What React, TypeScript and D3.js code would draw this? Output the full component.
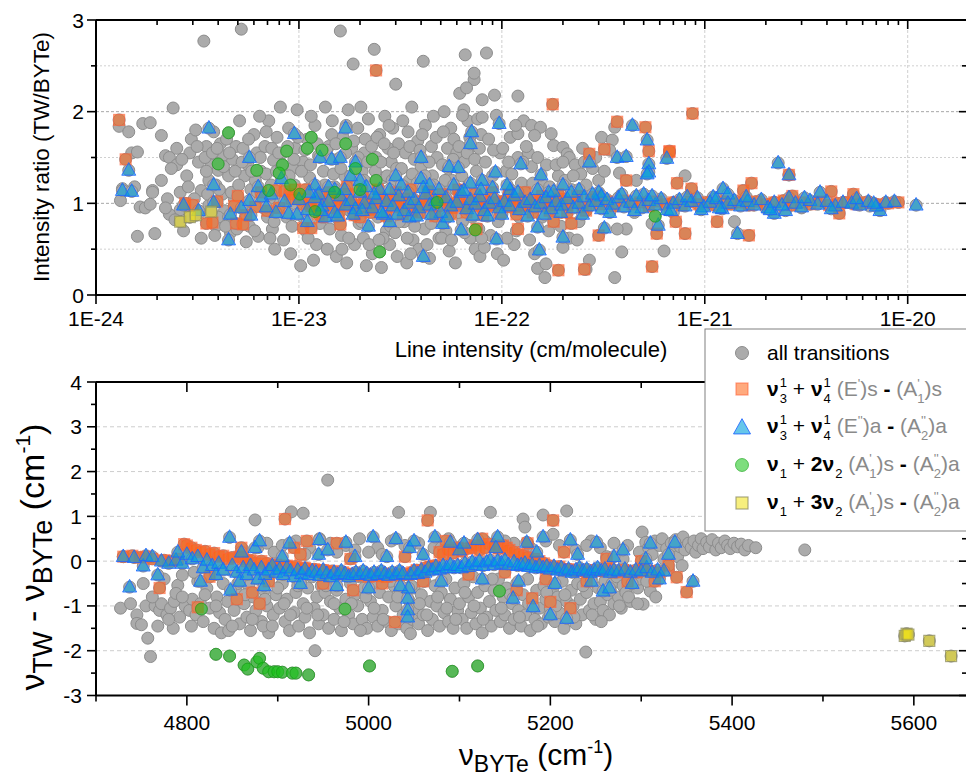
import React from "react";
import * as d3 from "d3";

type P = [number, number];

// ---------------- TOP PANEL: [line intensity (cm/molecule), intensity ratio TW/BYTe]
const topAllOnly: P[] = [
  [1.3e-24,1.84],[1.35e-24,1.16],[1.32e-24,1.03],[1.45e-24,1.78],[1.5e-24,1.55],[1.6e-24,1.56],[1.55e-24,1.18],[1.6e-24,0.64],[1.65e-24,0.96],[1.7e-24,1.87],[1.75e-24,0.95],[1.85e-24,1.88],[1.9e-24,1.14],[1.85e-24,0.99],[1.95e-24,0.67],[1.9e-24,1.12],
  [2.1e-24,1.74],[2.2e-24,1.52],[2.3e-24,1.5],[2.25e-24,1.05],[2.4e-24,2.04],[2.5e-24,1.6],[2.5e-24,1.42],[2.6e-24,1.12],[2.6e-24,0.93],[2.7e-24,0.7],[2.3e-24,0.88],[2.8e-24,1.3],[2.9e-24,1.55],[2.75e-24,1.0],[2.95e-24,1.7],[2.2e-24,0.95],
  [3.1e-24,1.8],[3.2e-24,1.45],[3.3e-24,1.14],[3.4e-24,2.77],[3.3e-24,0.62],[3.5e-24,1.62],[3.6e-24,1.25],[3.6e-24,0.98],[3.7e-24,1.42],[3.8e-24,1.78],[3.9e-24,0.75],[4.0e-24,1.36],[4.1e-24,1.65],[4.2e-24,1.1],[4.3e-24,0.92],[4.4e-24,1.7],[4.5e-24,1.3],[4.6e-24,0.68],[4.7e-24,1.48],[4.8e-24,1.05],[4.9e-24,1.62],[3.5e-24,1.35],[4.0e-24,0.85],[4.5e-24,0.85],[3.9e-24,1.2],[4.2e-24,1.52],
  [5.1e-24,1.9],[5.2e-24,2.9],[5.3e-24,1.6],[5.4e-24,1.3],[5.5e-24,0.58],[5.6e-24,1.42],[5.8e-24,1.15],[5.9e-24,0.95],[6.0e-24,1.75],[6.2e-24,1.55],[6.3e-24,0.64],[6.5e-24,1.35],[6.6e-24,1.08],[6.8e-24,1.62],[7.0e-24,0.85],[7.1e-24,1.9],[7.3e-24,1.2],[7.5e-24,1.47],[7.6e-24,0.5],[7.8e-24,1.72],[7.9e-24,1.02],[5.7e-24,0.75],[6.1e-24,1.25],[6.9e-24,1.32],[7.4e-24,0.72],[5.4e-24,1.0],[6.4e-24,1.95],[7.2e-24,0.62],
  [8.1e-24,2.05],[8.3e-24,1.55],[8.5e-24,1.25],[8.7e-24,0.85],[8.9e-24,1.82],[9.1e-24,0.45],[9.3e-24,1.38],[9.6e-24,1.6],[9.8e-24,2.02],[1.0e-23,1.12],[1.02e-23,0.32],[1.05e-23,1.45],[1.08e-23,0.7],[1.1e-23,1.7],[1.13e-23,1.28],[1.16e-23,0.95],[1.2e-23,1.85],[1.22e-23,0.55],[1.25e-23,1.52],[1.28e-23,1.15],[8.4e-24,0.6],[9.0e-24,1.0],[1.15e-23,1.95],[1.05e-23,0.85],[9.5e-24,1.2],[8.8e-24,1.62],[1.18e-23,0.38],[1.27e-23,0.78],
  [1.32e-23,1.35],[1.35e-23,2.05],[1.38e-23,0.5],[1.4e-23,1.62],[1.43e-23,0.88],[1.46e-23,1.9],[1.5e-23,1.18],[1.53e-23,0.42],[1.56e-23,1.48],[1.6e-23,2.88],[1.62e-23,0.65],[1.65e-23,1.72],[1.68e-23,1.3],[1.72e-23,0.35],[1.75e-23,2.02],[1.78e-23,0.92],[1.82e-23,1.6],[1.85e-23,2.52],[1.88e-23,0.55],[1.92e-23,1.42],[1.95e-23,1.82],[1.98e-23,0.78],[1.4e-23,1.1],[1.58e-23,0.95],[1.7e-23,1.55],[1.9e-23,1.15],[1.45e-23,1.75],[1.63e-23,0.5],
  [2.02e-23,2.05],[2.05e-23,1.35],[2.08e-23,0.62],[2.12e-23,1.7],[2.15e-23,0.32],[2.2e-23,1.92],[2.25e-23,1.12],[2.3e-23,0.45],[2.35e-23,2.68],[2.4e-23,1.5],[2.45e-23,0.85],[2.5e-23,1.75],[2.55e-23,0.3],[2.6e-23,1.28],[2.65e-23,1.95],[2.7e-23,0.7],[2.75e-23,1.6],[2.8e-23,0.55],[2.85e-23,1.45],[2.9e-23,1.82],[2.95e-23,0.9],[3.0e-23,2.3],[3.05e-23,0.42],[3.1e-23,1.65],[2.3e-23,1.2],[2.6e-23,0.62],[2.85e-23,1.15],[2.1e-23,1.55],
  [3.25e-23,1.9],[3.3e-23,0.8],[3.35e-23,1.55],[3.4e-23,0.35],[3.45e-23,1.78],[3.5e-23,1.25],[3.6e-23,2.05],[3.65e-23,0.6],[3.7e-23,1.48],[3.8e-23,0.92],[3.85e-23,1.68],[3.9e-23,0.5],[4.0e-23,1.4],[4.1e-23,2.55],[4.15e-23,0.72],[4.2e-23,1.85],[4.3e-23,1.15],[4.4e-23,0.4],[4.5e-23,1.62],[4.6e-23,1.95],[4.7e-23,0.85],[4.8e-23,1.5],[4.9e-23,0.62],[3.55e-23,0.45],[4.05e-23,1.75],[4.55e-23,1.3],
  [5.1e-23,1.42],[5.2e-23,2.0],[5.3e-23,0.7],[5.4e-23,1.6],[5.5e-23,0.48],[5.6e-23,1.82],[5.7e-23,1.25],[5.8e-23,1.7],[5.9e-23,0.35],[6.0e-23,1.55],[6.2e-23,2.2],[6.4e-23,0.8],[6.5e-23,1.45],[6.6e-23,2.62],[6.8e-23,1.9],[7.0e-23,0.62],[7.1e-23,1.62],[7.3e-23,2.35],[7.4e-23,0.5],[7.5e-23,1.35],[7.6e-23,1.92],[7.8e-23,0.42],[7.9e-23,1.75],[5.4e-23,1.15],[6.1e-23,0.9],[6.9e-23,1.22],[7.7e-23,0.72],
  [8.4e-23,2.64],[7.3e-23,2.42],[6.7e-23,2.26],[8.0e-23,2.13],[9.2e-23,2.18],[1.2e-22,2.17],[6.5e-23,2.02],[6.4e-23,1.96],[8.0e-23,1.94],[9.4e-23,1.96],[8.6e-23,1.7],[9.8e-23,1.55],[1.05e-22,1.35],[1.1e-22,1.72],[1.15e-22,0.55],[1.2e-22,1.5],[1.25e-22,1.22],[8.8e-23,0.65],[9.5e-23,0.45],[1.02e-22,0.38],[8.2e-23,0.52],[1.28e-22,1.9],[1.08e-22,1.45],[9.0e-23,1.3],[1.18e-22,0.7],
  [1.4e-22,1.85],[1.55e-22,1.83],[1.45e-22,1.74],[1.75e-22,1.76],[1.2e-22,1.76],[1.8e-22,1.63],[2.0e-22,1.61],[2.1e-22,1.54],[2.15e-22,1.5],[2.3e-22,1.42],[2.5e-22,1.6],[2.45e-22,1.32],[2.8e-22,1.38],[3.1e-22,1.72],[3.5e-22,1.69],[3.4e-22,1.58],[3.6e-22,1.83],[3.8e-22,1.33],[1.5e-22,0.29],[1.65e-22,0.34],[1.63e-22,0.19],[1.45e-22,0.45],[1.4e-22,1.4],[2.0e-22,0.52],[2.15e-22,0.62],[2.7e-22,0.38],[2.6e-22,0.28],[3.6e-22,0.19],[3.9e-22,0.47],[4.1e-22,0.72],[3.7e-22,0.72],[6.3e-22,0.48],[1.6e-22,1.2],[1.9e-22,1.3],[2.2e-22,1.15],[1.35e-22,1.55],[2.6e-22,1.2],[3.0e-22,1.25],[1.7e-22,0.7],[2.4e-22,0.8],
  [4.5e-22,0.9],[5.5e-22,0.78],[7e-22,0.9],[1.4e-21,0.8],[9e-22,1.05],[3e-21,0.95],[1.2e-21,1.05],[2e-21,0.95],[6.5e-21,0.97],[4.6e-22,1.25],[8e-22,1.3],
  [2.1e-24,1.25],[2.35e-24,1.38],[2.45e-24,0.82],[2.65e-24,1.48],[2.85e-24,1.18],[2.9e-24,0.85],[3.05e-24,1.05],[3.15e-24,1.62],[3.25e-24,0.9],[3.45e-24,1.5],[3.55e-24,1.1],[3.75e-24,1.55],[3.85e-24,0.65],[3.95e-24,1.6],[4.05e-24,1.15],[4.25e-24,1.4],[4.35e-24,0.75],[4.55e-24,1.55],[4.65e-24,1.12],[4.85e-24,1.35],[4.95e-24,0.72],
  [5.05e-24,1.2],[5.25e-24,1.45],[5.45e-24,0.85],[5.65e-24,1.7],[5.85e-24,1.35],[6.05e-24,0.7],[6.25e-24,1.12],[6.45e-24,1.5],[6.7e-24,0.95],[6.9e-24,1.78],[7.15e-24,1.05],[7.35e-24,1.6],[7.55e-24,0.8],[7.75e-24,1.35],[7.95e-24,1.55],
  [8.2e-24,1.4],[8.6e-24,1.05],[8.95e-24,1.3],[9.25e-24,0.75],[9.45e-24,1.48],[9.7e-24,0.95],[9.9e-24,1.72],[1.03e-23,1.35],[1.07e-23,1.58],[1.11e-23,0.62],[1.14e-23,1.42],[1.19e-23,1.08],[1.23e-23,1.65],[1.26e-23,0.9],
  [1.34e-23,1.2],[1.37e-23,1.58],[1.42e-23,0.72],[1.48e-23,1.32],[1.52e-23,1.65],[1.57e-23,0.82],[1.61e-23,1.38],[1.66e-23,1.12],[1.71e-23,1.85],[1.76e-23,0.62],[1.8e-23,1.25],[1.86e-23,1.68],[1.91e-23,0.88],[1.96e-23,1.5],
  [2.04e-23,0.8],[2.1e-23,1.25],[2.18e-23,1.45],[2.22e-23,0.55],[2.28e-23,1.62],[2.33e-23,0.92],[2.38e-23,1.35],[2.43e-23,1.72],[2.48e-23,0.6],[2.53e-23,1.45],[2.58e-23,1.1],[2.63e-23,1.65],[2.68e-23,0.88],[2.72e-23,1.3],[2.78e-23,1.85],[2.83e-23,0.75],[2.88e-23,1.25],[2.93e-23,1.55],[2.98e-23,0.68],[3.03e-23,1.38],[3.08e-23,1.12],[3.13e-23,0.8],
  [3.2e-23,1.38],[3.3e-23,1.18],[3.42e-23,0.62],[3.52e-23,1.62],[3.62e-23,1.32],[3.72e-23,0.75],[3.82e-23,1.22],[3.95e-23,1.58],[4.08e-23,0.9],[4.18e-23,1.3],[4.28e-23,0.55],[4.38e-23,1.45],[4.48e-23,0.78],[4.62e-23,1.2],[4.75e-23,1.72],[4.88e-23,1.1],
  [5.05e-23,0.62],[5.15e-23,1.78],[5.25e-23,1.25],[5.35e-23,0.85],[5.45e-23,1.38],[5.65e-23,0.6],[5.75e-23,1.48],[5.95e-23,1.15],[6.15e-23,1.62],[6.35e-23,1.3],[6.55e-23,0.68],[6.75e-23,1.55],[6.95e-23,1.72],[7.15e-23,0.85],[7.35e-23,1.48],[7.55e-23,1.18],[7.75e-23,1.6],[7.95e-23,0.62],
  [8.3e-23,1.45],[8.7e-23,1.18],[9.1e-23,1.58],[9.6e-23,0.8],[1.01e-22,1.6],[1.06e-22,0.62],[1.12e-22,1.32],[1.17e-22,1.85],[1.22e-22,0.85],[1.27e-22,1.45],[1.32e-22,1.62],[1.37e-22,0.6],[1.42e-22,1.22],[1.5e-22,1.5],[1.58e-22,0.85],[1.66e-22,1.42],[1.72e-22,1.18],[1.85e-22,1.42],[1.95e-22,0.75],[2.05e-22,1.25],[2.25e-22,1.3],[2.35e-22,0.6],[2.55e-22,1.45],[2.9e-22,1.5],[3.2e-22,1.35],[2.0e-22,1.45],
];

const topE1s: P[] = [
  [1.3e-24,1.91],[1.4e-24,1.48],[2.4e-23,2.45],[1.78e-22,2.08],[8.7e-22,1.98],[3.7e-22,1.89],[5.1e-22,1.83],[3.2e-22,1.59],[2.7e-22,1.54],[5.3e-22,1.57],[6.7e-22,1.57],
  [1.9e-22,0.27],[2.55e-22,0.28],[5.5e-22,0.31],[5.8e-22,0.67],[8.0e-22,0.67],[1.65e-21,0.65],[1.15e-21,0.8],[3e-22,0.65],[1.2e-22,0.72],[1.8e-22,0.8],[2.2e-22,0.78],[7.2e-22,0.8],[7.5e-23,0.72],
  [2.75e-24,1.0],[3.0e-24,0.98],[3.5e-24,0.78],[3.75e-24,0.79],[3.95e-24,1.02],[4.8e-24,0.97],[4.9e-24,0.78],[5.3e-24,0.77],[5.5e-24,0.87],[6.1e-24,0.96],[7.7e-24,1.14],[8.5e-24,1.13],[9.0e-24,1.1],[9.5e-24,1.15],[1.13e-23,1.0],[1.05e-23,0.73],[1.15e-23,0.73],[1.3e-23,0.85],[1.6e-23,0.77],[2.0e-23,0.85],
  [4.1e-22,1.25],[6.7e-22,1.56],[7.3e-22,1.22],[8.6e-22,1.16],[1.55e-21,1.14],[1.7e-21,1.22],[2.6e-21,1.31],[2.7e-21,1.08],[4.2e-21,1.13],[5.4e-21,1.1],[4.6e-21,0.89],
  [1.0e-23,1.05],[1.15e-23,0.97],[1.3e-23,1.08],[1.45e-23,0.95],[1.6e-23,1.02],[1.75e-23,1.1],[1.9e-23,0.98],[2.1e-23,1.04],[2.3e-23,0.93],[2.5e-23,1.06],[2.8e-23,1.0],[3.0e-23,0.96],[3.3e-23,1.05],[3.6e-23,0.92],[4.0e-23,1.02],[4.4e-23,1.08],[4.8e-23,0.97],[5.2e-23,1.03],[5.7e-23,0.95],[6.2e-23,1.06],[6.8e-23,1.0],[7.5e-23,0.97],[8.2e-23,1.04],[9.0e-23,0.99],[1.0e-22,1.02],[1.1e-22,0.96],[1.2e-22,1.05],[1.32e-22,0.98],[1.45e-22,1.03],[1.6e-22,0.97],[1.75e-22,1.01],[1.92e-22,1.05],[2.1e-22,0.98],[2.3e-22,1.02],[2.5e-22,0.96],[2.75e-22,1.04],[3.0e-22,0.99],[3.3e-22,1.02],[3.6e-22,0.97],[4.0e-22,1.03],[4.4e-22,0.99],[4.8e-22,1.01],[5.3e-22,0.97],[5.8e-22,1.02],[6.4e-22,0.99],[7.0e-22,1.01],[7.7e-22,0.98],[8.5e-22,1.02],[9.3e-22,0.99],[1.02e-21,1.01],[1.12e-21,0.98],[1.23e-21,1.02],[1.35e-21,0.99],[1.5e-21,1.01],[1.65e-21,0.98],[1.8e-21,1.02],[2.0e-21,0.99],[2.2e-21,1.01],[2.45e-21,1.03],[2.7e-21,0.98],[3.0e-21,1.01],[3.3e-21,0.99],[3.7e-21,1.02],[4.1e-21,0.98],[4.5e-21,1.0],[5.0e-21,1.01],[5.6e-21,0.99],[6.2e-21,1.01],[7.0e-21,0.99],[8.0e-21,1.0],[9.0e-21,1.01],
  [1.05e-23,0.99],[1.22e-23,1.02],[1.38e-23,0.99],[1.55e-23,1.05],[1.68e-23,0.97],[1.82e-23,1.01],[2.0e-23,0.96],[2.2e-23,1.01],[2.4e-23,0.99],[2.65e-23,1.02],[2.9e-23,1.05],[3.15e-23,0.99],[3.45e-23,1.01],[3.8e-23,0.98],[4.2e-23,0.97],[4.6e-23,1.01],[5.0e-23,1.04],[5.5e-23,0.99],[6.0e-23,1.01],[6.5e-23,0.97],[7.2e-23,1.02],[7.9e-23,1.0],[8.6e-23,0.97],[9.5e-23,1.01],[1.05e-22,1.0],[1.15e-22,1.02],[1.26e-22,0.97],[1.38e-22,1.01],[1.52e-22,1.0],[1.68e-22,1.03],[1.84e-22,0.98],[2.0e-22,1.02],
  [5.0e-24,1.08],[6.5e-24,1.12],[7.0e-24,0.92],[8.0e-24,0.95],[9.2e-24,1.05],[1.08e-23,1.15],[1.25e-23,0.88],[1.42e-23,1.12],[1.58e-23,0.9],[1.72e-23,1.18],[1.88e-23,0.87],[2.05e-23,1.13],[2.25e-23,0.9],[2.45e-23,1.15],[2.7e-23,0.86],[3.0e-23,1.12],[3.25e-23,0.88],[3.55e-23,1.15],[3.9e-23,0.9],[4.3e-23,1.13],[4.7e-23,0.86],[5.1e-23,1.1],[5.6e-23,0.88],[6.1e-23,1.15],[6.7e-23,0.9],[7.4e-23,1.1],[8.1e-23,0.87],[8.9e-23,1.12],[9.8e-23,0.9],[1.08e-22,1.1],[1.18e-22,0.88],[1.3e-22,1.12],[1.42e-22,0.9],[1.58e-22,1.08],[1.72e-22,0.92],[1.9e-22,1.1],[2.1e-22,0.9],[2.35e-22,1.08],[2.6e-22,0.92],[2.9e-22,1.07],
];

const topE2a: P[] = [
  [1.45e-24,1.36],[1.35e-24,1.14],[1.5e-24,1.13],[3.6e-24,1.82],[5.7e-24,1.5],[9.5e-24,1.76],[3.8e-24,1.2],[3.8e-24,1.01],[2.7e-24,0.98],[3.2e-24,0.92],[4.6e-24,0.88],[4.5e-24,0.6],[5.7e-24,1.03],[5.8e-24,0.87],[6.6e-24,1.07],[6.9e-24,0.96],[7.7e-24,0.9],[8.2e-24,1.27],[8.9e-24,0.89],
  [1.27e-23,1.5],[1.45e-23,1.48],[1.6e-23,1.5],[1.8e-23,1.3],[1.7e-23,1.82],[4.0e-23,1.5],[5.5e-23,1.4],[7.1e-23,1.78],[7.0e-23,1.65],[9.7e-23,1.87],[1.24e-22,1.43],[4.1e-23,0.42],[9.4e-23,0.61],[1.53e-22,0.49],[2.7e-22,1.45],[3.7e-22,1.5],[4.1e-22,1.51],[4.4e-22,1.85],[5.2e-22,1.69],[5.3e-22,1.43],[5.3e-22,1.34],[6.5e-22,1.49],[1.1e-20,0.98],
  [1.2e-23,1.2],[1.35e-23,0.85],[1.5e-23,1.15],[2.0e-23,1.25],[2.5e-23,1.15],[2.8e-23,0.8],[3.0e-23,1.3],[3.5e-23,0.85],[2.2e-23,0.75],[1.1e-23,0.8],[1.25e-23,1.1],[1.9e-23,1.45],
  [4.0e-23,1.27],[4.4e-23,1.2],[6.1e-23,1.39],[7.0e-23,1.22],[8.0e-23,1.25],[9.3e-23,1.34],[1.1e-22,1.15],[1.56e-22,1.31],[1.7e-22,1.12],[2.0e-22,1.2],[2.4e-22,1.15],[3.0e-22,1.12],[3.1e-22,1.08],[5.0e-22,1.1],[5.2e-22,1.32],[5.1e-23,0.78],[6.3e-23,0.71],[1.5e-22,0.74],[2.0e-22,0.63],[3.2e-22,0.73],[5.9e-22,0.76],[1.1e-21,1.07],[1.23e-21,1.16],[1.3e-21,1.1],[1.45e-21,0.67],[2.2e-21,0.89],[2.5e-21,0.92],[3.7e-21,1.12],[7.3e-21,0.92],[2.3e-21,1.44],[2.6e-21,1.31],
  [1.0e-23,1.04],[1.1e-23,0.93],[1.2e-23,1.06],[1.3e-23,0.97],[1.4e-23,1.02],[1.5e-23,0.9],[1.6e-23,1.08],[1.7e-23,0.98],[1.8e-23,1.03],[1.9e-23,0.94],[2.0e-23,1.12],[2.1e-23,1.0],[2.3e-23,0.95],[2.4e-23,1.05],[2.6e-23,0.88],[2.7e-23,1.02],[2.9e-23,0.97],[3.1e-23,1.08],[3.3e-23,0.92],[3.5e-23,1.0],[3.7e-23,1.04],[3.9e-23,0.95],[4.2e-23,1.1],[4.4e-23,0.98],[4.7e-23,1.03],[5.0e-23,0.9],[5.3e-23,1.06],[5.6e-23,0.97],[6.0e-23,1.01],[6.3e-23,1.12],[6.7e-23,0.94],[7.0e-23,1.04],[7.4e-23,0.99],[7.8e-23,1.07],[8.2e-23,0.92],[8.7e-23,1.0],[9.2e-23,1.05],[9.7e-23,0.95],[1.03e-22,1.02],[1.09e-22,0.97],[1.15e-22,1.08],[1.22e-22,0.93],[1.3e-22,1.01],[1.38e-22,1.04],[1.46e-22,0.96],[1.55e-22,1.0],[1.65e-22,1.06],[1.75e-22,0.94],[1.85e-22,1.02],[1.97e-22,0.98],[2.1e-22,1.05],[2.25e-22,0.95],[2.4e-22,1.0],[2.55e-22,1.07],[2.7e-22,0.97],[2.9e-22,1.02],[3.1e-22,0.94],[3.3e-22,1.04],[3.5e-22,0.99],[3.75e-22,1.06],[4.0e-22,0.96],[4.3e-22,1.01],[4.6e-22,1.08],[4.9e-22,0.95],[5.3e-22,1.03],[5.7e-22,0.98],[6.1e-22,1.05],[6.5e-22,0.93],[7.0e-22,1.0],[7.5e-22,1.04],[8.0e-22,0.97],[8.6e-22,1.02],[9.2e-22,1.06],[9.9e-22,0.96],[1.06e-21,1.01],[1.14e-21,1.05],[1.22e-21,0.94],[1.3e-21,1.0],[1.4e-21,1.03],[1.5e-21,0.97],[1.62e-21,1.02],[1.75e-21,0.98],[1.9e-21,1.04],[2.05e-21,0.95],[2.2e-21,1.01],[2.4e-21,0.98],[2.6e-21,1.06],[2.8e-21,1.0],[3.0e-21,0.96],[3.3e-21,1.03],[3.6e-21,0.99],[4.0e-21,1.02],[4.4e-21,0.97],[4.8e-21,1.01],[5.3e-21,1.0],[5.8e-21,0.98],[6.4e-21,1.02],[7.0e-21,0.97],[7.8e-21,1.01],[8.6e-21,1.02],
  [5.2e-24,0.95],[6.3e-24,1.18],[7.3e-24,1.1],[8.5e-24,1.02],[9.8e-24,0.88],[1.12e-23,1.12],[1.28e-23,0.92],[1.4e-23,1.18],[1.55e-23,0.86],[1.68e-23,1.15],[1.85e-23,0.88],[2.05e-23,0.92],[2.15e-23,1.18],[2.35e-23,1.1],[2.55e-23,0.9],[2.8e-23,1.15],[3.05e-23,0.88],[3.2e-23,1.2],[3.45e-23,1.12],[3.8e-23,0.86],[4.1e-23,1.17],[4.5e-23,0.88],[4.9e-23,1.15],[5.4e-23,0.85],[5.8e-23,1.2],[6.5e-23,1.14],[7.2e-23,0.87],[7.9e-23,1.15],[8.5e-23,0.86],[9.0e-23,1.17],[1.0e-22,0.88],[1.06e-22,1.2],[1.2e-22,1.12],[1.34e-22,0.86],[1.5e-22,1.15],[1.62e-22,0.88],[1.8e-22,1.13],[1.95e-22,0.9],[2.2e-22,1.12],[2.5e-22,0.88],[2.8e-22,1.1],[3.4e-22,0.9],[3.9e-22,1.1],[4.5e-22,0.92],[5.5e-22,1.08],[6.8e-22,0.92],[8.2e-22,1.07],[9.6e-22,0.93],[1.18e-21,0.95],[1.6e-21,1.07],[2.1e-21,0.93],[3.1e-21,1.06],[4.2e-21,0.94],[5.6e-21,1.05],[6.8e-21,1.0],
];

const topNu1_2nu2: P[] = [
  [4.5e-24,1.77],[4.0e-24,1.43],[6.2e-24,1.36],[8.7e-24,1.57],[8.3e-24,1.42],[8.0e-24,1.33],[9.1e-24,1.2],[7.1e-24,1.14],[1.01e-23,1.1],[1.2e-23,0.91],[1.15e-23,1.72],[1.3e-23,1.58],[1.7e-23,1.65],[1.9e-23,1.38],[2.3e-23,1.48],[2.4e-23,1.25],[2.0e-23,1.15],[1.5e-23,1.12],[2.5e-23,0.47],[4.8e-23,1.01],[7.4e-23,0.71],[5.7e-22,0.86],[1.1e-23,1.6],
];

const topNu1_3nu2: P[] = [
  [2.6e-24,0.8],[2.9e-24,0.85],[3.1e-24,0.87],[3.7e-24,0.91],
];

// ---------------- BOTTOM PANEL: [ν_BYTe (cm-1), ν_TW - ν_BYTe (cm-1)]
const botAllOnly: P[] = [
  [4727,-1.05],[4745,-1.2],[4745,-1.39],[4757,-1.72],[4760,-2.13],[4750,-1.42],[4738,-0.95],[4755,-1.0],[4752,-0.5],
  [4765,-1.0],[4770,-1.1],[4772,-0.95],[4778,-1.2],[4782,-1.05],[4786,-0.9],[4790,-0.54],[4788,-0.72],[4795,-0.31],[4792,-1.25],[4798,-1.0],[4775,-0.4],[4768,-1.45],[4785,-1.5],[4762,-0.8],
  [4803,-1.1],[4806,-0.85],[4810,-1.2],[4812,-0.45],[4815,-0.95],[4818,-1.35],[4822,-0.6],[4825,-1.05],[4828,-0.3],[4830,-1.5],[4833,-0.8],[4836,-1.15],[4840,-0.5],[4842,-1.3],[4845,-0.9],[4848,-0.2],[4838,-1.6],[4826,-0.15],[4808,-0.25],[4846,-1.55],
  [4852,-1.1],[4855,-0.7],[4858,-1.4],[4860,-0.35],[4863,-0.95],[4866,-1.25],[4868,-0.55],[4870,-1.55],[4873,-0.8],[4875,0.92],[4876,-1.1],[4880,-0.4],[4882,-1.35],[4885,-0.65],[4888,-1.0],[4890,-1.6],[4892,-0.25],[4895,-1.2],[4898,-0.75],[4878,0.3],[4862,0.25],[4888,0.4],[4896,0.2],[4870,-0.05],[4884,-1.45],
  [4902,-1.05],[4905,-0.5],[4908,-1.35],[4910,-0.85],[4913,-1.55],[4915,1.1],[4916,-0.3],[4918,-1.15],[4920,-0.7],[4923,-1.45],[4925,-0.45],[4928,1.07],[4928,-0.95],[4930,-1.25],[4933,-0.6],[4935,-1.6],[4938,-0.35],[4940,-1.05],[4941,-2.0],[4943,-0.8],[4945,-1.4],[4948,-0.55],[4905,0.35],[4920,0.45],[4935,0.3],[4946,0.5],[4912,-0.15],
  [4950,-1.2],[4952,-0.7],[4955,1.81],[4956,-1.5],[4958,-0.9],[4960,-0.4],[4962,-1.3],[4965,-0.65],[4968,-1.05],[4970,-1.55],[4972,-0.3],[4975,-0.85],[4978,-1.2],[4980,-0.5],[4983,-1.4],[4985,-0.75],[4988,-1.0],[4990,-0.35],[4993,-1.3],[4995,-0.6],[4998,-1.5],[4958,0.4],[4975,0.35],[4990,0.5],[4965,0.2],[4985,0.25],
  [5002,-0.9],[5005,-1.25],[5008,-0.45],[5010,-1.45],[5012,-0.7],[5015,-1.1],[5018,-0.35],[5020,-1.35],[5022,-0.8],[5025,-1.55],[5028,-0.55],[5030,-1.0],[5033,1.09],[5033,-1.4],[5035,-0.65],[5038,-1.2],[5040,-0.3],[5042,-1.5],[5045,-0.9],[5048,-1.3],[5010,0.3],[5025,0.45],[5040,0.35],[5015,0.15],[5046,-1.62],
  [5050,-0.6],[5052,-1.05],[5055,-1.4],[5058,-0.75],[5060,-1.2],[5062,-0.45],[5065,-1.55],[5068,1.09],[5068,-0.9],[5070,-1.3],[5073,-0.55],[5075,-1.0],[5078,-1.45],[5080,-0.7],[5083,-1.15],[5085,-0.4],[5088,-1.35],[5090,-0.85],[5093,-1.5],[5095,-0.6],[5098,-1.1],[5055,0.4],[5072,0.3],[5088,0.5],[5095,0.25],
  [5100,-0.95],[5103,-1.3],[5105,-0.5],[5108,-1.5],[5110,-0.8],[5113,-1.15],[5115,-0.35],[5118,-1.4],[5120,-0.7],[5123,-1.05],[5125,-1.6],[5128,-0.55],[5130,-1.25],[5133,-0.9],[5134,1.09],[5135,-1.45],[5138,-0.65],[5140,-1.1],[5143,-0.4],[5145,-1.35],[5148,-0.8],[5110,0.35],[5128,0.45],[5145,0.3],
  [5150,-1.2],[5152,-0.6],[5155,-1.5],[5158,-0.95],[5160,-1.3],[5163,-0.5],[5165,-1.1],[5168,-1.45],[5170,0.94],[5170,-0.75],[5173,-1.2],[5175,-0.4],[5178,-1.55],[5180,-0.9],[5183,-1.3],[5185,-0.65],[5188,-1.05],[5190,-1.4],[5192,1.03],[5193,-0.55],[5195,-0.85],[5198,-1.25],[5160,0.4],[5178,0.3],[5195,0.45],[5172,0.76],
  [5200,-1.05],[5203,0.6],[5203,-0.6],[5205,-1.35],[5208,-0.8],[5210,-1.15],[5213,-0.45],[5215,-1.5],[5218,1.12],[5218,-0.9],[5220,-1.25],[5223,-0.65],[5225,-1.0],[5228,-1.4],[5230,-0.5],[5233,-0.85],[5235,-1.2],[5239,-2.03],[5240,-0.7],[5243,-1.1],[5245,-0.4],[5248,-0.95],[5210,0.35],[5228,0.25],[5245,0.45],
  [5250,-1.3],[5253,-0.6],[5255,-0.9],[5258,-1.1],[5260,-0.45],[5263,-0.75],[5265,-1.2],[5268,-0.5],[5270,-0.95],[5273,-0.35],[5275,-0.8],[5278,-1.05],[5280,-0.55],[5283,-0.7],[5285,-0.3],[5288,-0.9],[5290,-0.5],[5293,-0.25],[5296,-0.6],[5298,-0.4],[5255,0.3],[5270,0.4],[5285,0.35],[5298,0.2],[5262,0.1],[5280,0.05],
  [5301,0.65],[5302,-0.96],[5305,0.42],[5308,0.3],[5310,-0.67],[5312,0.15],[5315,0.45],[5318,-0.3],[5320,0.35],[5323,0.5],[5325,0.05],[5328,0.28],[5330,-0.2],[5333,0.4],[5335,0.2],[5338,0.48],[5340,0.1],[5343,0.32],[5346,0.54],[5348,0.25],[5345,-0.1],
  [5352,0.4],[5355,0.3],[5358,0.45],[5360,0.2],[5363,0.35],[5366,0.5],[5368,0.28],[5372,0.42],[5375,0.32],[5378,0.48],[5382,0.25],[5385,0.4],[5388,0.3],[5392,0.45],[5395,0.35],[5398,0.28],[5402,0.4],[5406,0.32],[5410,0.38],[5414,0.25],[5418,0.35],[5426,0.3],[5480,0.25],
  [4780,-1.3],[4795,-0.8],[4805,-1.45],[4820,-0.75],[4832,-1.0],[4850,-1.45],[4856,-0.5],[4864,-0.75],[4872,-1.3],[4886,-0.85],[4894,-1.45],[4900,-0.6],[4907,-0.95],[4914,-1.2],[4922,-0.55],[4932,-1.05],[4944,-1.2],[4953,-0.55],[4962,-0.95],[4973,-1.35],[4981,-0.95],[4991,-1.55],[4997,-0.8],[5006,-1.05],[5016,-1.3],[5024,-0.45],[5032,-0.8],[5047,-0.55],[5056,-0.95],[5064,-1.2],[5076,-0.8],[5086,-1.05],[5096,-1.3],[5106,-0.7],[5116,-1.0],[5126,-1.3],[5136,-0.4],[5146,-1.05],[5156,-0.75],[5166,-1.25],[5176,-0.95],[5186,-1.45],[5196,-0.7],[5206,-1.0],[5216,-0.75],[5226,-1.25],[5236,-0.55],[5246,-1.2],[5256,-1.35],[5266,-0.65],[5276,-1.0],[5286,-0.8],[5296,-0.95],[5306,-0.45],[5316,-0.8],[4930,0.15],[5000,0.2],[5080,0.3],[5150,0.45],[5240,0.35],
];

const botE1s: P[] = [
  [4730,0.1],[4740,0.12],[4748,0.08],[4755,0.1],[4762,0.05],[4770,-0.6],[4775,0.02],[4782,0.0],[4790,0.05],[4797,0.38],[4800,0.35],[4805,0.3],[4810,0.25],[4812,-1.03],[4815,0.2],[4820,0.22],[4825,0.15],[4830,0.18],[4835,0.1],[4840,0.12],[4845,0.05],[4850,0.08],[4855,-0.85],[4858,0.1],[4862,0.05],[4866,0.0],[4870,0.02],[4872,-0.7],[4875,-0.05],[4880,-0.95],[4882,0.0],[4888,-0.05],[4893,-0.1],[4898,-0.08],[4903,-0.12],[4908,0.94],[4910,-0.1],[4915,-0.15],[4918,0.3],[4920,-0.12],[4925,-0.18],[4930,-0.15],[4932,0.45],[4935,-0.2],[4940,-0.18],[4945,-0.22],[4950,-0.2],[4955,-0.25],[4960,-0.22],[4965,0.4],[4968,-0.28],[4972,-0.25],[4978,-0.3],[4983,-0.65],[4985,-0.28],[4990,-0.32],[4995,-0.3],[5000,-0.35],[5005,-0.3],[5010,-0.33],[5015,-0.28],[5020,-0.35],[5025,-0.3],[5029,-1.36],[5032,-0.32],[5038,-0.28],[5043,-0.3],[5048,-0.25],[5053,-0.2],[5058,-0.22],[5063,-0.15],[5065,0.91],[5068,-0.12],[5073,-0.1],[5078,0.2],[5082,0.15],[5088,0.25],[5093,0.18],[5098,0.3],[5103,0.22],[5108,0.28],[5113,0.3],[5118,0.35],[5122,0.25],[5128,0.3],[5133,0.38],[5138,0.32],[5143,0.28],[5148,0.35],[5152,0.3],[5155,0.25],[5160,0.2],[5163,-0.65],[5165,0.15],[5170,0.12],[5175,0.08],[5180,-0.83],[5182,0.05],[5188,0.0],[5193,-0.05],[5198,-0.1],[5200,-0.91],[5203,0.91],[5205,-0.15],[5210,-0.12],[5215,-0.2],[5220,-0.18],[5222,-1.05],[5228,-0.22],[5235,-0.2],[5242,-0.25],[5250,-0.2],[5258,-0.22],[5265,-0.18],[5272,-0.25],[5280,-0.2],[5288,-0.22],[5295,-0.25],[5302,-0.2],[5310,-0.22],[5320,-0.25],[5339,-0.36],[5350,-0.69],
  [4825,-0.35],[4860,0.3],[4890,-0.45],[4925,0.15],[4950,-0.5],[4980,0.05],[5015,-0.5],[5040,0.1],[5060,-0.45],[5085,0.45],[5110,-0.3],[5125,0.5],[5150,-0.25],[5175,0.4],[5195,-0.4],[5215,0.2],[5240,-0.45],[5262,0.05],[5285,-0.45],[5300,0.0],[5315,-0.45],[5330,-0.1],
];

const botE2a: P[] = [
  [4730,0.1],[4737,-0.58],[4742,0.08],[4752,-0.11],[4755,0.12],[4762,0.1],[4768,-0.31],[4772,0.0],[4780,-0.05],[4788,0.02],[4795,-0.05],[4800,0.15],[4806,0.05],[4812,0.1],[4818,-0.15],[4822,0.02],[4828,-0.1],[4832,-0.3],[4835,-0.05],[4840,-0.2],[4847,0.53],[4848,-0.65],[4850,-0.1],[4855,-0.25],[4858,-0.45],[4862,-0.15],[4866,-0.3],[4870,-0.1],[4874,-0.2],[4878,-0.4],[4882,-0.15],[4886,-0.3],[4890,-0.2],[4894,-0.1],[4898,-0.25],[4902,-0.18],[4906,-0.3],[4910,-0.15],[4914,-0.22],[4918,-0.35],[4922,-0.2],[4926,-0.28],[4930,-0.18],[4934,-0.3],[4938,-0.22],[4942,-0.25],[4946,-0.32],[4950,-0.2],[4954,-0.28],[4958,-0.35],[4962,-0.25],[4966,-0.3],[4970,-0.22],[4974,-0.28],[4978,-0.35],[4982,-0.3],[4986,-0.25],[4990,-0.3],[4994,-0.22],[4998,-0.28],[5002,-0.32],[5005,0.54],[5006,-0.25],[5010,-0.3],[5014,-0.22],[5018,-0.28],[5022,-0.32],[5026,-0.25],[5030,-0.3],[5034,-0.22],[5038,-0.28],[5043,-0.83],[5043,-1.09],[5043,-1.25],[5044,-0.6],[5046,-0.3],[5050,-0.22],[5054,-0.28],[5058,-0.2],[5062,-0.25],[5066,-0.15],[5070,-0.2],[5073,0.54],[5074,-0.12],[5078,-0.18],[5082,-0.1],[5086,-0.15],[5090,0.42],[5090,-0.08],[5094,-0.15],[5098,-0.1],[5102,-0.15],[5106,-0.05],[5110,-0.12],[5114,-0.02],[5118,-0.08],[5122,0.0],[5126,-0.1],[5130,-0.02],[5134,0.02],[5138,-0.08],[5142,0.54],[5142,0.0],[5146,-0.05],[5150,0.02],[5154,-0.08],[5159,-0.83],[5160,-0.02],[5164,-0.1],[5168,-0.08],[5172,-0.05],[5174,0.42],[5176,-0.12],[5180,-0.08],[5181,-1.02],[5184,-0.15],[5188,-0.1],[5192,0.54],[5192,-0.15],[5196,-0.12],[5200,-1.2],[5200,-0.18],[5204,-0.12],[5208,-0.2],[5212,-0.15],[5216,-0.22],[5218,-1.28],[5220,-0.18],[5222,0.47],[5224,-0.25],[5228,-0.2],[5232,-0.15],[5236,-0.22],[5240,-0.18],[5244,-0.25],[5248,-0.2],[5251,0.42],[5252,-0.15],[5256,-0.22],[5258,-0.67],[5260,-0.18],[5265,-0.6],[5266,-0.25],[5270,-0.2],[5275,-0.22],[5280,0.25],[5282,-0.18],[5288,-0.25],[5294,-0.2],[5300,-0.22],[5306,-0.15],[5310,0.4],[5312,-0.25],[5318,-0.2],[5325,-0.22],[5337,0.42],[5357,-0.45],
  [4860,0.2],[4885,-0.55],[4905,0.1],[4925,-0.5],[4945,0.15],[4965,-0.55],[4985,0.1],[5000,-0.6],[5020,0.1],[5035,-0.55],[5060,0.15],[5080,-0.45],[5100,0.25],[5125,-0.4],[5140,0.3],[5165,-0.45],[5185,0.2],[5205,-0.5],[5230,0.15],[5245,-0.45],[5270,0.1],[5290,-0.5],[5305,0.05],[5320,-0.4],[5330,0.15],[4815,-0.45],[4790,0.2],[4875,0.3],[4955,0.25],[5045,0.3],
  [4880,0.45],[4913,0.4],[4946,0.48],[4975,0.42],[5050,0.45],[5120,0.48],[5030,0.5],[5105,0.4],
];

const botNu1_2nu2: P[] = [
  [4816,-1.07],[4974,-1.07],[4832,-2.08],[4847,-2.12],[4863,-2.32],[4867,-2.41],[4877,-2.25],[4880,-2.17],[4884,-2.39],[4890,-2.47],[4896,-2.47],[4900,-2.47],[4905,-2.48],[4916,-2.5],[4920,-2.5],[4934,-2.54],[5001,-2.34],[5092,-2.46],[5120,-2.34],[5144,-0.67],
];

const botNu1_3nu2: P[] = [
  [5590,-1.67],[5592,-1.62],[5594,-1.64],[5617,-1.78],[5641,-2.12],
];

// ---------------- ticks
const topXTicks = [1e-24, 1e-23, 1e-22, 1e-21, 1e-20];
const topXTickLabels = ["1E-24", "1E-23", "1E-22", "1E-21", "1E-20"];
const topYTicks = [0, 1, 2, 3];
const botXTicks = [4800, 5000, 5200, 5400, 5600];
const botYTicks = [-3, -2, -1, 0, 1, 2, 3, 4];

const FONT = "'Liberation Sans', Arial, Helvetica, sans-serif";
const GT = "#8a8a8a";

const ST = {
  gray: { fill: "#ababab", stroke: "#8c8c8c" },
  orange: { fill: "rgba(255,100,20,0.55)", stroke: "rgba(255,100,60,0.6)" },
  blue: { fill: "rgba(0,160,220,0.6)", stroke: "rgba(30,100,255,0.85)" },
  green: { fill: "rgba(20,195,20,0.55)", stroke: "rgba(20,160,20,0.6)" },
  yellow: { fill: "rgba(240,225,20,0.55)", stroke: "rgba(140,140,100,0.75)" },
};

const triPath = (x: number, y: number, s: number) =>
  `M${x},${y - s * 1.1}L${x + s},${y + s * 0.7}L${x - s},${y + s * 0.7}Z`;

function Circles({ data, sx, sy, st, r = 6 }: any) {
  return (
    <g>
      {data.map((d: P, i: number) => (
        <circle key={i} cx={sx(d[0])} cy={sy(d[1])} r={r} fill={st.fill} stroke={st.stroke} strokeWidth={1} />
      ))}
    </g>
  );
}
function Squares({ data, sx, sy, st, s = 5.5 }: any) {
  return (
    <g>
      {data.map((d: P, i: number) => (
        <rect key={i} x={sx(d[0]) - s} y={sy(d[1]) - s} width={2 * s} height={2 * s} fill={st.fill} stroke={st.stroke} strokeWidth={1.2} />
      ))}
    </g>
  );
}
function Triangles({ data, sx, sy, st, s = 7 }: any) {
  return (
    <g>
      {data.map((d: P, i: number) => (
        <path key={i} d={triPath(sx(d[0]), sy(d[1]), s)} fill={st.fill} stroke={st.stroke} strokeWidth={1} />
      ))}
    </g>
  );
}

export default function App() {
  const L = 96, R = 967;
  const xT = d3.scaleLog().domain([1e-24, 1.96e-20]).range([L, R]);
  const yT = d3.scaleLinear().domain([0, 3]).range([295, 20]);
  const xB = d3.scaleLinear().domain([4700, 5658.5]).range([L, R]);
  const yB = d3.scaleLinear().domain([-3, 4]).range([695.5, 382]);

  const grayTop = [...topAllOnly, ...topE1s, ...topE2a, ...topNu1_2nu2, ...topNu1_3nu2];
  const grayBot = [...botAllOnly, ...botE1s, ...botE2a, ...botNu1_2nu2, ...botNu1_3nu2];

  const topMinorX: number[] = [];
  for (let e = -24; e <= -20; e++) for (let k = 2; k <= 9; k++) {
    const v = k * Math.pow(10, e);
    if (v < 1.96e-20) topMinorX.push(v);
  }
  const topMinorY = [0.5, 1.5, 2.5];
  const botMinorX = [4700, 4900, 5100, 5300, 5500];
  const botMinorY = [-2.5, -1.5, -0.5, 0.5, 1.5, 2.5, 3.5];

  const MAJ = 9, MIN = 5;
  const RA = 968;
  const [t0, t1] = [yT(3), yT(0)];
  const [b0, b1] = [yB(4), yB(-3)];

  return (
    <svg width={966} height={776} style={{ position: "absolute", left: 0, top: 0, background: "#fff" }} fontFamily={FONT}>
      <rect x={0} y={0} width={966} height={776} fill="#fff" />
      <defs>
        <clipPath id="cT"><rect x={L} y={t0} width={R - L} height={t1 - t0} /></clipPath>
        <clipPath id="cB"><rect x={L} y={b0} width={R - L} height={b1 - b0} /></clipPath>
      </defs>

      {/* ===== TOP PANEL ===== */}
      <g>
        {[0.5, 1.5, 2.5].map((v) => (
          <line key={"tg" + v} x1={L} x2={R} y1={yT(v)} y2={yT(v)} stroke="#d0d0d0" strokeDasharray="2,2" />
        ))}
        {[1, 2].map((v) => (
          <line key={"tG" + v} x1={L} x2={R} y1={yT(v)} y2={yT(v)} stroke="#a8a8a8" strokeDasharray="3,2" />
        ))}
        {topXTicks.slice(1).map((v) => (
          <line key={"tv" + v} x1={xT(v)} x2={xT(v)} y1={t0} y2={t1} stroke="#cfcfcf" strokeDasharray="3,2" />
        ))}
        <g clipPath="url(#cT)">
          <Circles data={grayTop} sx={xT} sy={yT} st={ST.gray} />
          <Squares data={topE1s} sx={xT} sy={yT} st={ST.orange} />
          <Triangles data={topE2a} sx={xT} sy={yT} st={ST.blue} />
          <Circles data={topNu1_2nu2} sx={xT} sy={yT} st={ST.green} r={6} />
          <Squares data={topNu1_3nu2} sx={xT} sy={yT} st={ST.yellow} />
        </g>
        <g stroke="#000" strokeWidth={2} fill="none">
          <line x1={L} x2={R} y1={t1} y2={t1} />
          <line x1={L} x2={R} y1={t0} y2={t0} />
          <line x1={L} x2={L} y1={t0} y2={t1 + 1} />
          <line x1={RA} x2={RA} y1={t0} y2={t1} />
        </g>
        <g stroke="#000" strokeWidth={1.6}>
          {topXTicks.map((v) => (
            <g key={"tx" + v}>
              <line x1={xT(v)} x2={xT(v)} y1={t1} y2={t1 + MAJ} />
              <line x1={xT(v)} x2={xT(v)} y1={t0} y2={t0 + MAJ} />
            </g>
          ))}
          {topMinorX.map((v) => (
            <g key={"tmx" + v}>
              <line x1={xT(v)} x2={xT(v)} y1={t1} y2={t1 + MIN} />
              <line x1={xT(v)} x2={xT(v)} y1={t0} y2={t0 + MIN} />
            </g>
          ))}
          {topYTicks.map((v) => (
            <g key={"ty" + v}>
              <line x1={L - MAJ} x2={L} y1={yT(v)} y2={yT(v)} />
              <line x1={RA - MAJ} x2={RA} y1={yT(v)} y2={yT(v)} />
            </g>
          ))}
          {topMinorY.map((v) => (
            <g key={"tmy" + v}>
              <line x1={L - MIN} x2={L} y1={yT(v)} y2={yT(v)} />
              <line x1={RA - MIN - 1} x2={RA} y1={yT(v)} y2={yT(v)} />
            </g>
          ))}
        </g>
        <g fontSize={21} fill="#000">
          {topXTicks.map((v, i) => (
            <text key={"txl" + v} x={xT(v)} y={326} textAnchor="middle">{topXTickLabels[i]}</text>
          ))}
          {topYTicks.map((v) => (
            <text key={"tyl" + v} x={84} y={yT(v) + 7.5} textAnchor="end">{v}</text>
          ))}
        </g>
        <text x={531} y={357} textAnchor="middle" fontSize={22}>Line intensity (cm/molecule)</text>
        <text transform="translate(49,157) rotate(-90)" textAnchor="middle" fontSize={22.5}>Intensity ratio (TW/BYTe)</text>
      </g>

      {/* ===== BOTTOM PANEL ===== */}
      <g>
        {[-2, -1, 0, 1, 2, 3].map((v) => (
          <line key={"bg" + v} x1={L} x2={R} y1={yB(v)} y2={yB(v)} stroke="#cdcdcd" strokeDasharray="4,3" />
        ))}
        <g clipPath="url(#cB)">
          <Circles data={grayBot} sx={xB} sy={yB} st={ST.gray} />
          <Squares data={botE1s} sx={xB} sy={yB} st={ST.orange} />
          <Triangles data={botE2a} sx={xB} sy={yB} st={ST.blue} />
          <Circles data={botNu1_2nu2} sx={xB} sy={yB} st={ST.green} r={6} />
          <Squares data={botNu1_3nu2} sx={xB} sy={yB} st={ST.yellow} />
        </g>
        <g stroke="#000" strokeWidth={2} fill="none">
          <line x1={L} x2={R} y1={b1} y2={b1} />
          <line x1={L} x2={R} y1={b0} y2={b0} />
          <line x1={L} x2={L} y1={b0} y2={b1} />
          <line x1={RA} x2={RA} y1={b0} y2={b1} />
        </g>
        <g stroke="#000" strokeWidth={1.6}>
          {botXTicks.map((v) => (
            <g key={"bx" + v}>
              <line x1={xB(v)} x2={xB(v)} y1={b1} y2={b1 + MAJ + 1} />
              <line x1={xB(v)} x2={xB(v)} y1={b0} y2={b0 + MAJ + 1} />
            </g>
          ))}
          {botMinorX.map((v) => (
            <g key={"bmx" + v}>
              <line x1={xB(v)} x2={xB(v)} y1={b1} y2={b1 + MIN + 1} />
              <line x1={xB(v)} x2={xB(v)} y1={b0} y2={b0 + MIN + 1} />
            </g>
          ))}
          {botYTicks.map((v) => (
            <g key={"by" + v}>
              <line x1={L - MAJ} x2={L} y1={yB(v)} y2={yB(v)} />
              <line x1={RA - MAJ} x2={RA} y1={yB(v)} y2={yB(v)} />
            </g>
          ))}
          {botMinorY.map((v) => (
            <g key={"bmy" + v}>
              <line x1={L - MIN} x2={L} y1={yB(v)} y2={yB(v)} />
              <line x1={RA - MIN - 1} x2={RA} y1={yB(v)} y2={yB(v)} />
            </g>
          ))}
        </g>
        <g fontSize={21} fill="#000">
          {botXTicks.map((v) => (
            <text key={"bxl" + v} x={xB(v)} y={730} textAnchor="middle">{v}</text>
          ))}
          {botYTicks.map((v) => (
            <text key={"byl" + v} x={82} y={yB(v) + 7.5} textAnchor="end">{v}</text>
          ))}
        </g>
        <text x={536} y={765} textAnchor="middle" fontSize={30}>
          <tspan>ν</tspan>
          <tspan fontSize={23} dy={7}>BYTe</tspan>
          <tspan dy={-7}>{" (cm"}</tspan>
          <tspan fontSize={18} dy={-12}>-1</tspan>
          <tspan dy={12}>)</tspan>
        </text>
        <text transform="translate(44,557) rotate(-90)" textAnchor="middle" fontSize={34}>
          <tspan>ν</tspan>
          <tspan fontSize={27} dy={8}>TW</tspan>
          <tspan dy={-8}>{" - ν"}</tspan>
          <tspan fontSize={27} dy={8}>BYTe</tspan>
          <tspan dy={-8}>{" (cm"}</tspan>
          <tspan fontSize={21} dy={-14}>-1</tspan>
          <tspan dy={14}>)</tspan>
        </text>
      </g>

      {/* ===== LEGEND ===== */}
      <g>
        <rect x={705} y={329} width={270} height={202} fill="#fff" stroke="#808080" strokeWidth={1} />
        <circle cx={742} cy={353} r={6.5} fill={ST.gray.fill} stroke={ST.gray.stroke} />
        <rect x={736} y={383} width={12} height={12} fill={ST.orange.fill} stroke={ST.orange.stroke} strokeWidth={1.2} />
        <path d={triPath(742, 428, 8.5)} fill={ST.blue.fill} stroke={ST.blue.stroke} />
        <circle cx={742} cy={465} r={6.5} fill={ST.green.fill} stroke={ST.green.stroke} />
        <rect x={736} y={497} width={12} height={12} fill={ST.yellow.fill} stroke={ST.yellow.stroke} strokeWidth={1.2} />

        <g fontSize={21} fill="#000">
          <text x={767} y={360}>all transitions</text>

          <text x={767} y={396}>
            <tspan fontWeight="bold">ν</tspan>
            <tspan fontSize={13} dx={1} dy={-9}>1</tspan>
            <tspan fontSize={13} dx={-7.2} dy={16}>3</tspan>
            <tspan dy={-7}>{" + "}</tspan>
            <tspan fontWeight="bold">ν</tspan>
            <tspan fontSize={13} dx={1} dy={-9}>1</tspan>
            <tspan fontSize={13} dx={-7.2} dy={16}>4</tspan>
            <tspan dy={-7} fill={GT}>{" (E"}</tspan>
            <tspan fill={GT} fontSize={13} dy={-8}>'</tspan>
            <tspan fill={GT} dy={8}>)s</tspan>
            <tspan fontWeight="bold">{" - "}</tspan>
            <tspan fill={GT}>(A</tspan>
            <tspan fill={GT} fontSize={13} dy={-8}>'</tspan>
            <tspan fill={GT} fontSize={13} dx={-2.5} dy={15}>1</tspan>
            <tspan fill={GT} dy={-7}>)s</tspan>
          </text>

          <text x={767} y={433}>
            <tspan fontWeight="bold">ν</tspan>
            <tspan fontSize={13} dx={1} dy={-9}>1</tspan>
            <tspan fontSize={13} dx={-7.2} dy={16}>3</tspan>
            <tspan dy={-7}>{" + "}</tspan>
            <tspan fontWeight="bold">ν</tspan>
            <tspan fontSize={13} dx={1} dy={-9}>1</tspan>
            <tspan fontSize={13} dx={-7.2} dy={16}>4</tspan>
            <tspan dy={-7} fill={GT}>{" (E"}</tspan>
            <tspan fill={GT} fontSize={13} dy={-8}>''</tspan>
            <tspan fill={GT} dy={8}>)a</tspan>
            <tspan fontWeight="bold">{" - "}</tspan>
            <tspan fill={GT}>(A</tspan>
            <tspan fill={GT} fontSize={13} dy={-8}>''</tspan>
            <tspan fill={GT} fontSize={13} dx={-5} dy={15}>2</tspan>
            <tspan fill={GT} dy={-7}>)a</tspan>
          </text>

          <text x={767} y={471}>
            <tspan fontWeight="bold">ν</tspan>
            <tspan fontSize={13} dx={1} dy={7}>1</tspan>
            <tspan dy={-7}>{" + "}</tspan>
            <tspan fontWeight="bold">2ν</tspan>
            <tspan fontSize={13} dx={1} dy={7}>2</tspan>
            <tspan dy={-7} fill={GT}>{" (A"}</tspan>
            <tspan fill={GT} fontSize={13} dy={-8}>'</tspan>
            <tspan fill={GT} fontSize={13} dx={-2.5} dy={15}>1</tspan>
            <tspan fill={GT} dy={-7}>)s</tspan>
            <tspan fontWeight="bold">{" - "}</tspan>
            <tspan fill={GT}>(A</tspan>
            <tspan fill={GT} fontSize={13} dy={-8}>''</tspan>
            <tspan fill={GT} fontSize={13} dx={-5} dy={15}>2</tspan>
            <tspan fill={GT} dy={-7}>)a</tspan>
          </text>

          <text x={767} y={509}>
            <tspan fontWeight="bold">ν</tspan>
            <tspan fontSize={13} dx={1} dy={7}>1</tspan>
            <tspan dy={-7}>{" + "}</tspan>
            <tspan fontWeight="bold">3ν</tspan>
            <tspan fontSize={13} dx={1} dy={7}>2</tspan>
            <tspan dy={-7} fill={GT}>{" (A"}</tspan>
            <tspan fill={GT} fontSize={13} dy={-8}>'</tspan>
            <tspan fill={GT} fontSize={13} dx={-2.5} dy={15}>1</tspan>
            <tspan fill={GT} dy={-7}>)s</tspan>
            <tspan fontWeight="bold">{" - "}</tspan>
            <tspan fill={GT}>(A</tspan>
            <tspan fill={GT} fontSize={13} dy={-8}>''</tspan>
            <tspan fill={GT} fontSize={13} dx={-5} dy={15}>2</tspan>
            <tspan fill={GT} dy={-7}>)a</tspan>
          </text>
        </g>
      </g>
    </svg>
  );
}
